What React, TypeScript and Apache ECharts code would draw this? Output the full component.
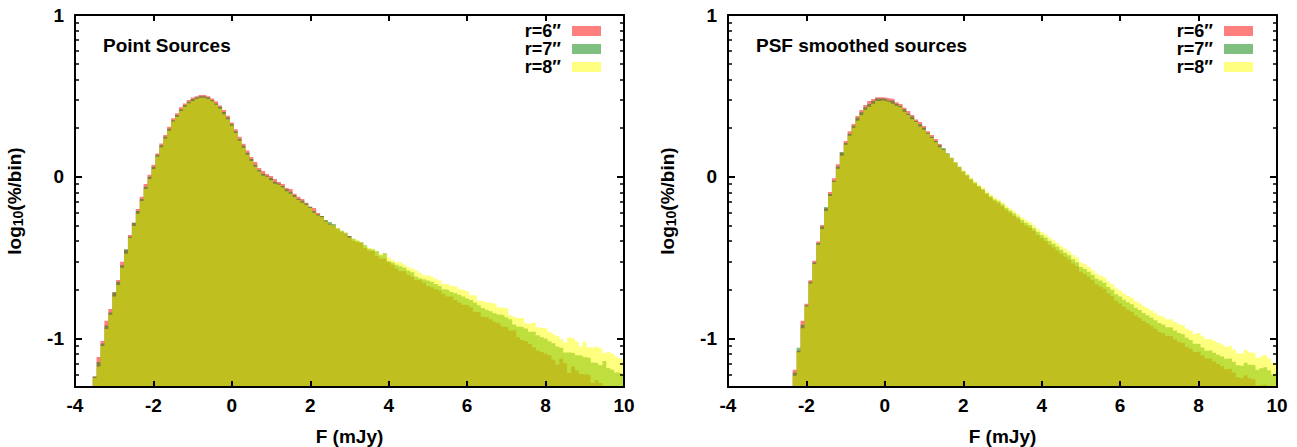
import React, { useEffect, useRef } from "react";
import * as echarts from "echarts";

// ---------- data: log10(%/bin) per 0.1 mJy bin ----------
const binWidth = 0.1;
const pointFirstBin = -3.5; // centre of first bin, Point Sources panel
const psfFirstBin = -2.3; // centre of first bin, PSF smoothed panel

const seriesNames = ["r=6\u2033", "r=7\u2033", "r=8\u2033"];
const seriesColors = ["rgba(255,0,0,0.5)", "rgba(0,128,0,0.5)", "rgba(255,255,0,0.5)"];

const xTickValues = [-4, -2, 0, 2, 4, 6, 8, 10];
const yLabelValues = [-1, 0, 1];

const pointR = [
  -1.235, -1.114, -1.015, -0.891, -0.817, -0.714, -0.638, -0.525, -0.452, -0.36,
  -0.284, -0.2, -0.124, -0.045, 0.012, 0.074, 0.144, 0.206, 0.258, 0.309,
  0.361, 0.392, 0.429, 0.453, 0.474, 0.49, 0.498, 0.506, 0.506, 0.498,
  0.484, 0.466, 0.441, 0.412, 0.377, 0.336, 0.293, 0.247, 0.204, 0.163,
  0.122, 0.091, 0.054, 0.035, 0.017, 0.004, -0.014, -0.033, -0.045, -0.07,
  -0.076, -0.105, -0.124, -0.138, -0.161, -0.185, -0.193, -0.224, -0.243, -0.272,
  -0.29, -0.302, -0.325, -0.34, -0.35, -0.366, -0.395, -0.403, -0.41, -0.44,
  -0.457, -0.461, -0.49, -0.506, -0.506, -0.527, -0.544, -0.568, -0.585, -0.583,
  -0.607, -0.618, -0.638, -0.642, -0.655, -0.675, -0.683, -0.696, -0.704, -0.725,
  -0.741, -0.741, -0.762, -0.778, -0.791, -0.795, -0.807, -0.836, -0.84, -0.865,
  -0.869, -0.881, -0.898, -0.906, -0.926, -0.93, -0.951, -0.947, -0.992, -1.009,
  -1.017, -1.033, -1.054, -1.075, -1.083, -1.095, -1.104, -1.132, -1.161, -1.124,
  -1.153, -1.214, -1.174, -1.198, -1.219, -1.223, -1.227, -1.276, -1.256, -1.276,
  -1.31, -1.31, -1.31, -1.35, -1.35, -1.35,
];
const pointG = [
  -1.235, -1.145, -1.031, -0.92, -0.84, -0.714, -0.65, -0.547, -0.449, -0.371,
  -0.284, -0.212, -0.138, -0.062, 0.0, 0.062, 0.136, 0.194, 0.247, 0.297,
  0.35, 0.381, 0.416, 0.443, 0.463, 0.48, 0.49, 0.498, 0.498, 0.49,
  0.474, 0.453, 0.432, 0.4, 0.366, 0.326, 0.281, 0.233, 0.191, 0.148,
  0.109, 0.074, 0.041, 0.019, 0.006, -0.008, -0.031, -0.042, -0.058, -0.078,
  -0.093, -0.113, -0.136, -0.148, -0.165, -0.185, -0.214, -0.232, -0.243, -0.267,
  -0.28, -0.292, -0.317, -0.334, -0.346, -0.366, -0.383, -0.395, -0.403, -0.424,
  -0.445, -0.45, -0.461, -0.485, -0.473, -0.523, -0.53, -0.544, -0.554, -0.563,
  -0.58, -0.59, -0.617, -0.628, -0.634, -0.642, -0.65, -0.663, -0.675, -0.696,
  -0.7, -0.712, -0.72, -0.729, -0.741, -0.753, -0.762, -0.778, -0.794, -0.811,
  -0.823, -0.832, -0.844, -0.852, -0.856, -0.869, -0.881, -0.914, -0.926, -0.93,
  -0.939, -0.959, -0.959, -0.98, -0.992, -1.0, -1.017, -1.029, -1.05, -1.058,
  -1.087, -1.087, -1.091, -1.103, -1.107, -1.116, -1.12, -1.149, -1.153, -1.165,
  -1.14, -1.182, -1.194, -1.211, -1.215, -1.22,
];
const pointY = [
  -1.245, -1.173, -1.046, -0.941, -0.854, -0.741, -0.669, -0.562, -0.476, -0.379,
  -0.305, -0.229, -0.15, -0.076, -0.014, 0.048, 0.124, 0.182, 0.237, 0.284,
  0.342, 0.371, 0.406, 0.432, 0.455, 0.469, 0.48, 0.488, 0.488, 0.48,
  0.466, 0.445, 0.42, 0.387, 0.356, 0.316, 0.27, 0.223, 0.179, 0.136,
  0.097, 0.062, 0.032, 0.006, 0.0, -0.022, -0.043, -0.049, -0.066, -0.09,
  -0.105, -0.125, -0.144, -0.161, -0.175, -0.193, -0.222, -0.239, -0.251, -0.276,
  -0.296, -0.302, -0.317, -0.334, -0.346, -0.375, -0.383, -0.391, -0.403, -0.424,
  -0.44, -0.446, -0.461, -0.477, -0.473, -0.498, -0.515, -0.527, -0.531, -0.543,
  -0.56, -0.566, -0.579, -0.593, -0.609, -0.609, -0.618, -0.63, -0.642, -0.663,
  -0.663, -0.675, -0.679, -0.692, -0.7, -0.708, -0.733, -0.733, -0.766, -0.77,
  -0.778, -0.782, -0.786, -0.807, -0.811, -0.815, -0.856, -0.865, -0.873, -0.873,
  -0.906, -0.91, -0.902, -0.93, -0.935, -0.939, -0.959, -0.972, -0.984, -1.005,
  -1.025, -0.992, -1.0, -1.021, -1.05, -1.021, -1.054, -1.058, -1.05, -1.062,
  -1.091, -1.083, -1.095, -1.112, -1.125, -1.13,
];

const psfR = [
  -1.194, -1.075, -0.891, -0.786, -0.64, -0.52, -0.4, -0.298, -0.195, -0.095,
  -0.01, 0.077, 0.148, 0.221, 0.282, 0.326, 0.375, 0.412, 0.443, 0.468,
  0.48, 0.492, 0.492, 0.488, 0.484, 0.48, 0.461, 0.449, 0.426, 0.406,
  0.381, 0.354, 0.338, 0.313, 0.282, 0.258, 0.233, 0.202, 0.17, 0.142,
  0.114, 0.086, 0.058, 0.03, 0.006, -0.018, -0.042, -0.064, -0.082, -0.108,
  -0.128, -0.148, -0.162, -0.183, -0.206, -0.222, -0.242, -0.262, -0.284, -0.302,
  -0.314, -0.336, -0.36, -0.38, -0.398, -0.42, -0.436, -0.456, -0.474, -0.494,
  -0.512, -0.536, -0.554, -0.588, -0.602, -0.618, -0.64, -0.664, -0.678, -0.692,
  -0.72, -0.738, -0.766, -0.784, -0.804, -0.822, -0.834, -0.858, -0.872, -0.892,
  -0.906, -0.922, -0.94, -0.958, -0.968, -0.984, -0.986, -1.006, -1.02, -1.028,
  -1.052, -1.064, -1.084, -1.08, -1.104, -1.124, -1.124, -1.142, -1.158, -1.172,
  -1.19, -1.186, -1.21, -1.24, -1.246, -1.228, -1.246, -1.252, -1.29, -1.286,
  -1.284, -1.31, -1.34, -1.34,
];
const psfG = [
  -1.21, -1.058, -0.915, -0.795, -0.65, -0.53, -0.41, -0.307, -0.187, -0.107,
  -0.025, 0.064, 0.153, 0.208, 0.266, 0.315, 0.365, 0.398, 0.43, 0.449,
  0.468, 0.484, 0.484, 0.48, 0.472, 0.468, 0.451, 0.438, 0.418, 0.389,
  0.373, 0.344, 0.325, 0.303, 0.272, 0.247, 0.221, 0.195, 0.177, 0.146,
  0.118, 0.09, 0.062, 0.036, 0.012, -0.012, -0.036, -0.058, -0.076, -0.1,
  -0.12, -0.14, -0.152, -0.17, -0.194, -0.21, -0.228, -0.248, -0.268, -0.284,
  -0.298, -0.318, -0.34, -0.36, -0.376, -0.396, -0.414, -0.432, -0.452, -0.47,
  -0.486, -0.51, -0.528, -0.558, -0.57, -0.588, -0.606, -0.63, -0.642, -0.656,
  -0.682, -0.698, -0.726, -0.74, -0.76, -0.776, -0.788, -0.81, -0.824, -0.842,
  -0.856, -0.872, -0.888, -0.904, -0.914, -0.93, -0.932, -0.95, -0.966, -0.974,
  -0.996, -1.01, -1.032, -1.034, -1.056, -1.076, -1.072, -1.088, -1.1, -1.112,
  -1.126, -1.122, -1.144, -1.166, -1.17, -1.15, -1.162, -1.164, -1.194, -1.184,
  -1.178, -1.196, -1.222, -1.216,
];
const psfY = [
  -1.231, -1.085, -0.937, -0.803, -0.66, -0.54, -0.42, -0.323, -0.212, -0.119,
  -0.033, 0.049, 0.13, 0.198, 0.253, 0.303, 0.346, 0.381, 0.414, 0.432,
  0.451, 0.468, 0.472, 0.468, 0.463, 0.451, 0.439, 0.43, 0.402, 0.381,
  0.356, 0.338, 0.311, 0.29, 0.266, 0.239, 0.214, 0.183, 0.165, 0.14,
  0.118, 0.092, 0.064, 0.04, 0.018, -0.006, -0.028, -0.05, -0.066, -0.09,
  -0.11, -0.128, -0.14, -0.158, -0.18, -0.196, -0.214, -0.232, -0.252, -0.268,
  -0.28, -0.3, -0.322, -0.34, -0.356, -0.376, -0.392, -0.41, -0.428, -0.446,
  -0.462, -0.484, -0.5, -0.528, -0.54, -0.556, -0.576, -0.598, -0.61, -0.622,
  -0.648, -0.664, -0.69, -0.704, -0.722, -0.738, -0.748, -0.77, -0.782, -0.8,
  -0.812, -0.826, -0.842, -0.858, -0.866, -0.882, -0.88, -0.898, -0.912, -0.918,
  -0.94, -0.952, -0.972, -0.966, -0.986, -1.004, -1.0, -1.014, -1.026, -1.038,
  -1.052, -1.046, -1.068, -1.092, -1.094, -1.072, -1.086, -1.088, -1.12, -1.11,
  -1.104, -1.124, -1.152, -1.146,
];

// ---------- helpers ----------
const FONT = "'Liberation Sans', Arial, Helvetica, sans-serif";

function stepPoints(firstCentre: number, vals: number[]) {
  const pts = vals.map((v, i) => [+(firstCentre + i * binWidth - binWidth / 2).toFixed(4), v]);
  pts.push([+(firstCentre + (vals.length - 1) * binWidth + binWidth / 2).toFixed(4), vals[vals.length - 1]]);
  return pts;
}

const minorTicks: number[] = [];
for (const e of [-2, -1, 0]) {
  for (let m = 2; m <= 9; m++) {
    const v = Math.log10(m * Math.pow(10, e));
    if (v > -1.3 && v < 1) minorTicks.push(+v.toFixed(5));
  }
}

const textBase = { fontFamily: FONT, fontWeight: "bold" as const, color: "#000" };
const lineStyle = { color: "#000", width: 2 };

function xAxes(gridIndex: number) {
  return [
    {
      type: "value", gridIndex, min: -4, max: 10, interval: 2, position: "bottom", z: 10,
      name: "F (mJy)", nameLocation: "middle", nameGap: 40,
      nameTextStyle: { ...textBase, fontSize: 19 },
      axisLine: { show: true, onZero: false, lineStyle },
      axisTick: { show: true, inside: true, length: 6, customValues: xTickValues, lineStyle: { color: "#000", width: 2 } },
      axisLabel: { ...textBase, fontSize: 19, margin: 9 },
      splitLine: { show: false },
    },
    {
      type: "value", gridIndex, min: -4, max: 10, interval: 2, position: "top", z: 10,
      axisLine: { show: true, onZero: false, lineStyle },
      axisTick: { show: true, inside: true, length: 6, customValues: xTickValues, lineStyle: { color: "#000", width: 2 } },
      axisLabel: { show: false },
      splitLine: { show: false },
    },
  ];
}

function yAxes(gridIndex: number) {
  const common = { type: "value", gridIndex, min: -1.3, max: 1, z: 10, splitLine: { show: false } };
  return [
    {
      ...common, position: "left",
      name: "{a|log}{s|10}{a|(%/bin)}", nameLocation: "middle", nameGap: 50, nameRotate: 90,
      nameTextStyle: {
        rich: {
          a: { ...textBase, fontSize: 19 },
          s: { ...textBase, fontSize: 14, padding: [8, 0, 0, 0] },
        },
      },
      axisLine: { show: true, onZero: false, lineStyle },
      axisTick: { show: true, inside: true, length: 7, customValues: yLabelValues, lineStyle: { color: "#000", width: 2 } },
      axisLabel: { ...textBase, fontSize: 19, margin: 11, customValues: yLabelValues },
    },
    {
      ...common, position: "left",
      axisLine: { show: false, onZero: false },
      axisTick: { show: true, inside: true, length: 4, customValues: minorTicks, lineStyle: { color: "#000", width: 1.5 } },
      axisLabel: { show: false },
    },
    {
      ...common, position: "right",
      axisLine: { show: true, onZero: false, lineStyle },
      axisTick: { show: true, inside: true, length: 7, customValues: yLabelValues, lineStyle: { color: "#000", width: 2 } },
      axisLabel: { show: false },
    },
    {
      ...common, position: "right",
      axisLine: { show: false, onZero: false },
      axisTick: { show: true, inside: true, length: 4, customValues: minorTicks, lineStyle: { color: "#000", width: 1.5 } },
      axisLabel: { show: false },
    },
  ];
}

function panelSeries(xAxisIndex: number, yAxisIndex: number, firstCentre: number, sets: number[][]) {
  return sets.map((vals, i) => ({
    type: "line",
    name: seriesNames[i],
    xAxisIndex,
    yAxisIndex,
    step: "end",
    symbol: "none",
    z: 2,
    clip: true,
    data: stepPoints(firstCentre, vals),
    itemStyle: { color: seriesColors[i] },
    lineStyle: { width: 0, opacity: 0 },
    areaStyle: { color: seriesColors[i], opacity: 1, origin: "start" },
    emphasis: { disabled: true },
  }));
}

function legendAt(right: number) {
  return {
    data: seriesNames,
    orient: "vertical",
    right,
    top: 22,
    align: "right",
    icon: "rect",
    itemWidth: 29,
    itemHeight: 10,
    itemGap: 0,
    padding: 0,
    selectedMode: false,
    textStyle: { ...textBase, fontSize: 18, padding: [0, 6, 0, 0] },
  };
}

export default function App() {
  const ref = useRef<HTMLDivElement>(null);

  useEffect(() => {
    if (!ref.current) return;
    const chart = echarts.init(ref.current, undefined, { renderer: "svg" });
    const option: any = {
      animation: false,
      backgroundColor: "#fff",
      grid: [
        { left: 75, top: 15, width: 549, height: 372, containLabel: false, outerBoundsMode: "none" },
        { left: 728, top: 15, width: 549, height: 372, containLabel: false, outerBoundsMode: "none" },
      ],
      title: [
        { text: "Point Sources", left: 103, top: 36, padding: 0, textStyle: { ...textBase, fontSize: 19 } },
        { text: "PSF smoothed sources", left: 756, top: 36, padding: 0, textStyle: { ...textBase, fontSize: 19 } },
      ],
      legend: [legendAt(696), legendAt(44)],
      xAxis: [...xAxes(0), ...xAxes(1)],
      yAxis: [...yAxes(0), ...yAxes(1)],
      series: [
        ...panelSeries(0, 0, pointFirstBin, [pointR, pointG, pointY]),
        ...panelSeries(2, 4, psfFirstBin, [psfR, psfG, psfY]),
      ],
    };
    chart.setOption(option);
    return () => chart.dispose();
  }, []);

  return (
    <div
      ref={ref}
      style={{ position: "fixed", left: 0, top: 0, width: 1297, height: 447, background: "#fff" }}
    />
  );
}
